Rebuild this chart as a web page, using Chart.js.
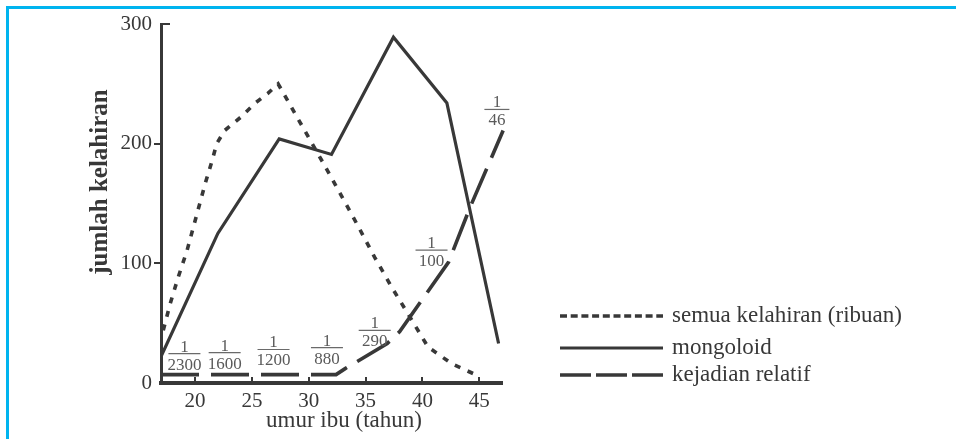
<!DOCTYPE html>
<html>
<head>
<meta charset="utf-8">
<script src="https://cdn.jsdelivr.net/npm/chart.js@4.4.1/dist/chart.umd.min.js"></script>
<style>
  html, body { margin: 0; padding: 0; background: #fff; }
  #wrap { position: relative; width: 956px; height: 439px; overflow: hidden; }
  #frame { position: absolute; left: 6px; top: 6px; right: 0; bottom: 0;
           border-left: 3px solid #00b4ef; border-top: 3px solid #00b4ef; }
  #chart { position: absolute; left: 0; top: 0; }
</style>
</head>
<body>
<div id="wrap">
  <div id="frame"></div>
  <canvas id="chart" width="956" height="439"></canvas>
</div>
<script>
// axis ticks
const xTicks = [20, 25, 30, 35, 40, 45];
const yTicks = [0, 100, 200, 300];

// semua kelahiran (ribuan)
const allBirthAge   = [17.2, 17.8, 18.5, 19.3, 20.1, 20.9, 21.5, 21.9, 22.6, 24.0, 25.3, 26.4, 27.3,
                       31.2, 32.9, 34.4, 35.8, 37.3, 39.1, 40.5, 42.6, 44.9];
const allBirthCount = [44, 66, 88, 111, 139, 167, 186, 200, 211, 222, 234, 242, 250,
                       185, 156, 130, 105, 80, 52, 30, 16, 6];

// mongoloid
const mongoloidAge   = [17, 22, 27.4, 32, 37.45, 42.15, 46.7];
const mongoloidCount = [22, 125, 204, 191, 289, 234, 33];

// kejadian relatif
const relativeAge   = [17, 32.4, 33.2, 36.9, 38, 42.3, 44.2, 47.1];
const relativeLevel = [7, 7, 12, 33, 43, 101, 147, 211];

// 1/n fractions written along the relative curve
const riskDenominators = ['2300', '1600', '1200', '880', '290', '100', '46'];
const riskLabelAge     = [19.06, 22.6, 26.9, 31.6, 35.8, 40.8, 46.55];
const riskLabelLevel   = [24.5, 25.3, 28, 29.5, 44, 111, 228.6];

const seriesNames = ['semua kelahiran (ribuan)', 'mongoloid', 'kejadian relatif'];

const ink = '#383838';
const serif = "'Liberation Serif', 'Times New Roman', serif";

const toPoints = (xs, ys) => xs.map((x, i) => ({ x: x, y: ys[i] }));

// legend dash patterns are tighter than the ones on the plot
const legendDash = [[7, 3.7], [], [31, 5]];
const legendRowY = [316, 348, 375];

const decorations = {
  id: 'decorations',
  afterDraw(chart) {
    const { ctx, chartArea, scales: { x, y } } = chart;
    ctx.save();

    // tick marks: x ticks point up into the plot, y ticks point outward
    ctx.strokeStyle = ink;
    ctx.lineWidth = 2;
    ctx.setLineDash([]);
    xTicks.forEach(v => {
      const px = Math.round(x.getPixelForValue(v));
      ctx.beginPath();
      ctx.moveTo(px, chartArea.bottom);
      ctx.lineTo(px, chartArea.bottom - 6);
      ctx.stroke();
    });
    yTicks.forEach(v => {
      if (v === 0) return;
      const py = Math.round(y.getPixelForValue(v));
      ctx.beginPath();
      if (v === y.max) {
        ctx.moveTo(chartArea.left, py);
        ctx.lineTo(chartArea.left + 9, py);
      } else {
        ctx.moveTo(chartArea.left - 7, py);
        ctx.lineTo(chartArea.left, py);
      }
      ctx.stroke();
    });

    // fractions
    ctx.fillStyle = '#5a5a5a';
    ctx.strokeStyle = '#6a6a6a';
    ctx.lineWidth = 1.2;
    ctx.font = '17px ' + serif;
    ctx.textAlign = 'center';
    ctx.textBaseline = 'alphabetic';
    riskDenominators.forEach((d, i) => {
      const cx = x.getPixelForValue(riskLabelAge[i]);
      const cy = y.getPixelForValue(riskLabelLevel[i]);
      const w = Math.min(32, ctx.measureText(d).width + 8);
      ctx.beginPath();
      ctx.moveTo(cx - w / 2, cy);
      ctx.lineTo(cx + w / 2, cy);
      ctx.stroke();
      ctx.fillText('1', cx, cy - 2);
      ctx.fillText(d, cx, cy + 16);
    });

    // axis titles
    ctx.fillStyle = ink;
    ctx.textBaseline = 'middle';
    ctx.font = '23px ' + serif;
    ctx.fillText('umur ibu (tahun)', 344, 421);
    ctx.save();
    ctx.translate(101, 182);
    ctx.rotate(-Math.PI / 2);
    ctx.font = 'bold 25px ' + serif;
    ctx.fillText('jumlah kelahiran', 0, 0);
    ctx.restore();

    // legend
    chart.data.datasets.forEach((ds, i) => {
      const ly = legendRowY[i];
      ctx.strokeStyle = ds.borderColor;
      ctx.lineWidth = ds.borderWidth;
      ctx.setLineDash(legendDash[i]);
      ctx.beginPath();
      ctx.moveTo(560, ly);
      ctx.lineTo(663, ly);
      ctx.stroke();
      ctx.setLineDash([]);
      ctx.fillStyle = ink;
      ctx.textAlign = 'left';
      ctx.font = '23px ' + serif;
      ctx.fillText(ds.label, 672, ly);
    });

    ctx.restore();
  }
};

new Chart(document.getElementById('chart'), {
  type: 'line',
  data: {
    datasets: [
      {
        label: seriesNames[0],
        data: toPoints(allBirthAge, allBirthCount),
        borderColor: ink,
        borderWidth: 3.6,
        borderDash: [6, 8],
        pointRadius: 0,
        tension: 0
      },
      {
        label: seriesNames[1],
        data: toPoints(mongoloidAge, mongoloidCount),
        borderColor: ink,
        borderWidth: 3.2,
        borderJoinStyle: 'miter',
        pointRadius: 0,
        tension: 0
      },
      {
        label: seriesNames[2],
        data: toPoints(relativeAge, relativeLevel),
        borderColor: ink,
        borderWidth: 3.6,
        borderDash: [38, 12],
        pointRadius: 0,
        tension: 0,
        clip: false
      }
    ]
  },
  options: {
    responsive: false,
    animation: false,
    layout: { padding: { left: 0, top: 24, right: 454, bottom: 0 } },
    plugins: {
      legend: { display: false },
      tooltip: { enabled: false }
    },
    scales: {
      x: {
        type: 'linear',
        min: 17,
        max: 47,
        grid: { display: false, drawTicks: false },
        border: { display: true, color: ink, width: 4 },
        afterBuildTicks: s => { s.ticks = xTicks.map(v => ({ value: v })); },
        afterFit: s => { s.height = 56; },
        ticks: { color: ink, padding: 6, font: { family: serif, size: 21 } }
      },
      y: {
        type: 'linear',
        min: 0,
        max: 300,
        grid: { display: false, drawTicks: false },
        border: { display: true, color: ink, width: 3 },
        afterBuildTicks: s => { s.ticks = yTicks.map(v => ({ value: v })); },
        afterFit: s => { s.width = 161; },
        ticks: { color: ink, padding: 9, font: { family: serif, size: 21 } }
      }
    }
  },
  plugins: [decorations]
});
</script>
</body>
</html>
